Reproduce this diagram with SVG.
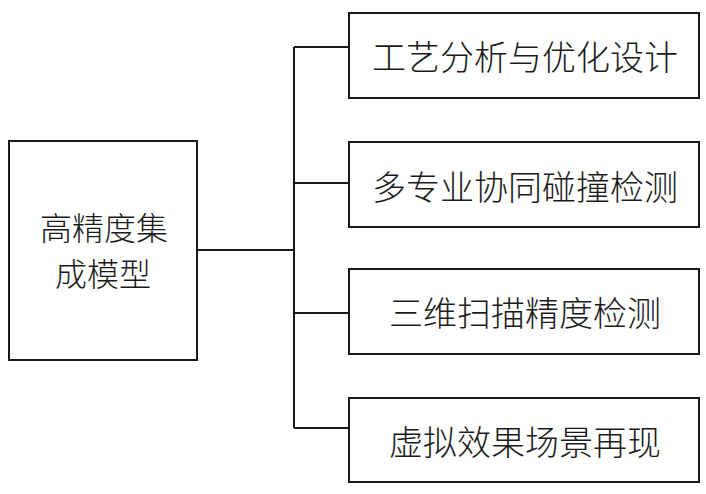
<svg xmlns="http://www.w3.org/2000/svg" width="706" height="494" viewBox="0 0 706 494">
<style>
.box{fill:#fff;stroke:#1a1a1a;stroke-width:2}
.ln{fill:none;stroke:#1a1a1a;stroke-width:2}
.t{font-family:"Noto Sans CJK SC","Noto Sans CJK JP",sans-serif;font-size:34px;font-weight:300;fill:#1a1a1a;text-anchor:middle;dominant-baseline:central}
.tl{font-size:32px}
</style>
<rect width="706" height="494" fill="#fff"/>
<g id="connectors">
<path class="ln" d="M197,250 H294"/>
<path class="ln" d="M294,47 V428"/>
<path class="ln" d="M294,47 H349"/>
<path class="ln" d="M294,183 H349"/>
<path class="ln" d="M294,313 H349"/>
<path class="ln" d="M294,428 H349"/>
</g>
<g id="root">
<rect class="box" x="9" y="141" width="188" height="219"/>
<text class="t tl" x="104" y="226">高精度集</text>
<text class="t tl" x="103" y="272">成模型</text>
</g>
<g id="n1">
<rect class="box" x="349" y="13" width="350" height="85"/>
<text class="t" x="525" y="55">工艺分析与优化设计</text>
</g>
<g id="n2">
<rect class="box" x="349" y="142" width="350" height="85"/>
<text class="t" x="525" y="185">多专业协同碰撞检测</text>
</g>
<g id="n3">
<rect class="box" x="349" y="269" width="350" height="85"/>
<text class="t" x="525" y="311">三维扫描精度检测</text>
</g>
<g id="n4">
<rect class="box" x="349" y="398" width="350" height="84"/>
<text class="t" x="525" y="440">虚拟效果场景再现</text>
</g>
</svg>
